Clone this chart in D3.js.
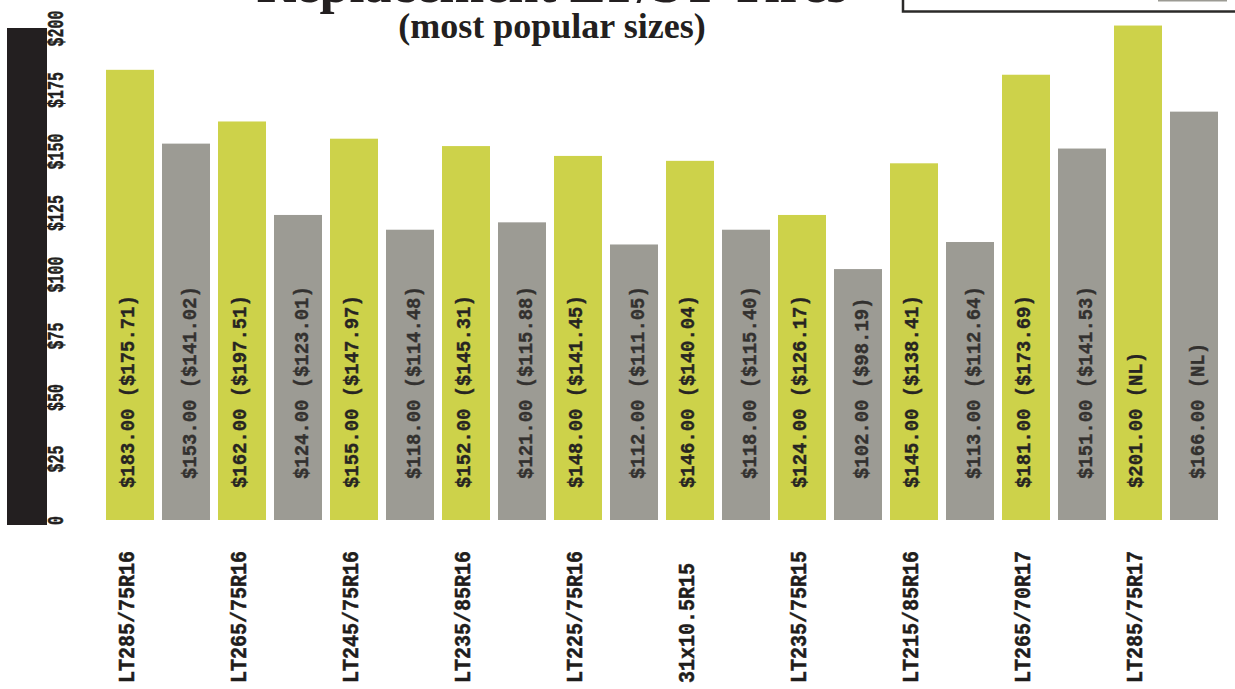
<!DOCTYPE html>
<html>
<head>
<meta charset="utf-8">
<script src="https://cdn.jsdelivr.net/npm/d3@7"></script>
<style>
  html, body { margin: 0; padding: 0; background: #ffffff; }
  svg { display: block; }
  .mono { font-family: "Liberation Mono", "Courier New", monospace; font-weight: bold; }
  .title { font-family: "Liberation Serif", "Times New Roman", serif; font-weight: bold; fill: #231f20; }
</style>
</head>
<body>
<svg id="chart" width="1235" height="689"></svg>
<script>
// Tire sizes (one group per size)
const categories = ["LT285/75R16", "LT265/75R16", "LT245/75R16", "LT235/85R16", "LT225/75R16",
                    "31x10.5R15", "LT235/75R15", "LT215/85R16", "LT265/70R17", "LT285/75R17"];
// First tire of each pair (green) and its bracketed comparison price
const greenValues  = [183, 162, 155, 152, 148, 146, 124, 145, 181, 201];
const greenCompare = ["$175.71", "$197.51", "$147.97", "$145.31", "$141.45", "$140.04", "$126.17", "$138.41", "$173.69", "NL"];
// Second tire of each pair (gray) and its bracketed comparison price
const grayValues   = [153, 124, 118, 121, 112, 118, 102, 113, 151, 166];
const grayCompare  = ["$141.02", "$123.01", "$114.48", "$115.88", "$111.05", "$115.40", "$98.19", "$112.64", "$141.53", "NL"];
// Price axis ticks
const tickValues = [0, 25, 50, 75, 100, 125, 150, 175, 200];
const tickLabels = ["0", "$25", "$50", "$75", "$100", "$125", "$150", "$175", "$200"];

const series = [
  { key: "green", values: greenValues, compare: greenCompare, fill: "#cdd24a", text: "#262422", labelY: 488, labelDx: 4 },
  { key: "gray",  values: grayValues,  compare: grayCompare,  fill: "#9c9b94", text: "#33312f", labelY: 479, labelDx: 10 }
];

const svg = d3.select("#chart");

const y = d3.scaleLinear().domain([0, 200]).range([520, 28]);
const x0 = d3.scaleBand().domain(categories).range([106, 1226]).paddingInner(0).paddingOuter(0);
const x1 = d3.scaleBand().domain(series.map(s => s.key)).range([0, 104]).paddingInner(1 / 7).paddingOuter(0);

// Title (first line runs off the top edge)
svg.append("text").attr("class", "title")
  .attr("x", 552).attr("y", 2).attr("text-anchor", "middle")
  .attr("font-size", 54).text("Replacement LT/ST Tires");
svg.append("text").attr("class", "title")
  .attr("x", 552).attr("y", 38).attr("text-anchor", "middle")
  .attr("font-size", 36).text("(most popular sizes)");

// Legend box, mostly above the top edge
const legend = svg.append("g");
legend.append("rect").attr("x", 903).attr("y", -80).attr("width", 360).attr("height", 91.5)
  .attr("fill", "#ffffff").attr("stroke", "#2b2a29").attr("stroke-width", 2.5);
legend.append("rect").attr("x", 1158).attr("y", -60).attr("width", 69).attr("height", 26).attr("fill", "#cdd24a");
legend.append("rect").attr("x", 1158).attr("y", -24).attr("width", 69).attr("height", 25.5).attr("fill", "#9c9b94");

// Black axis band
svg.append("rect").attr("x", 7).attr("y", y(200)).attr("width", 40).attr("height", 525 - y(200))
  .attr("fill", "#231f20");

// Price axis with rotated labels
const axis = svg.append("g").attr("transform", "translate(47,0)")
  .call(d3.axisRight(y).tickValues(tickValues).tickSize(0)
        .tickFormat((d, i) => tickLabels[i]));
axis.select(".domain").remove();
axis.selectAll("text")
  .attr("class", "mono")
  .style("font-size", "22px")
  .attr("fill", "#231f20")
  .attr("stroke", "#231f20").attr("stroke-width", 0.5)
  .attr("text-anchor", "middle")
  .attr("transform", "rotate(-90) scale(0.68,1)")
  .attr("x", 0).attr("y", 15.5).attr("dy", 0);

// Bars
const groups = svg.append("g").selectAll("g")
  .data(categories).join("g")
  .attr("transform", d => `translate(${x0(d)},0)`);

series.forEach(s => {
  groups.append("rect")
    .attr("x", x1(s.key))
    .attr("width", x1.bandwidth())
    .attr("y", (d, i) => y(s.values[i]))
    .attr("height", (d, i) => y(0) - y(s.values[i]))
    .attr("fill", s.fill);

  groups.append("text")
    .attr("class", "mono")
    .style("font-size", "21px")
    .attr("fill", s.text)
    .attr("stroke", s.text).attr("stroke-width", 0.4)
    .attr("transform", () => `translate(${x1(s.key) + x1.bandwidth() / 2 + s.labelDx},${s.labelY}) rotate(-90) scale(0.9,1)`)
    .text((d, i) => `$${s.values[i].toFixed(2)} (${s.compare[i]})`);
});

// Size labels under each pair
groups.append("text")
  .attr("class", "mono")
  .style("font-size", "22px")
  .attr("fill", "#1f1d1c")
  .attr("stroke", "#1f1d1c").attr("stroke-width", 0.5)
  .attr("transform", () => `translate(${x1("green") + x1.bandwidth() / 2 + 3.5},683) rotate(-90) scale(0.91,1)`)
  .text(d => d);
</script>
</body>
</html>
